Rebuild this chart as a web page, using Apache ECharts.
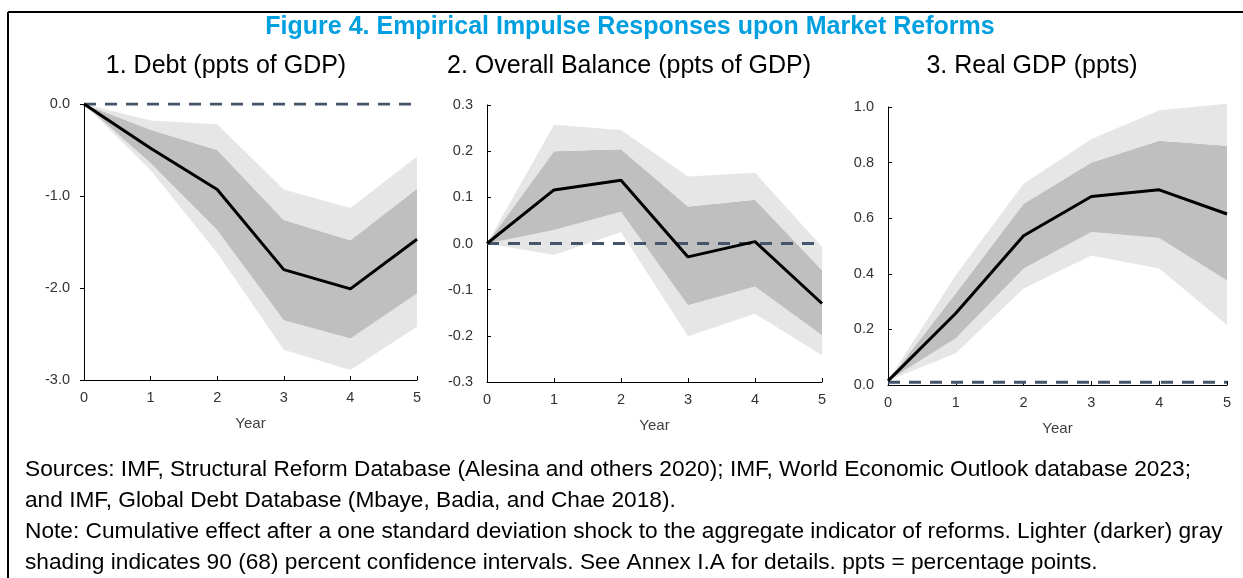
<!DOCTYPE html>
<html>
<head>
<meta charset="utf-8">
<script src="https://cdn.jsdelivr.net/npm/echarts@6/dist/echarts.min.js"></script>
<style>
  html, body { margin: 0; padding: 0; background: #fff; }
  #chart { width: 1243px; height: 578px; }
</style>
</head>
<body>
<div id="chart"></div>
<script>
// years on the x axis
const years = ['0', '1', '2', '3', '4', '5']

// 1. Debt (ppts of GDP)
const debtLine = [0, -0.48, -0.93, -1.80, -2.01, -1.47]
const debtUp68 = [0, -0.28, -0.50, -1.26, -1.48, -0.92]
const debtLo68 = [0, -0.64, -1.37, -2.35, -2.55, -2.06]
const debtUp90 = [0, -0.18, -0.22, -0.93, -1.13, -0.57]
const debtLo90 = [0, -0.72, -1.62, -2.67, -2.89, -2.42]

// 2. Overall Balance (ppts of GDP)
const balLine = [0, 0.116, 0.137, -0.029, 0.004, -0.130]
const balUp68 = [0, 0.200, 0.204, 0.080, 0.095, -0.058]
const balLo68 = [0, 0.029, 0.069, -0.134, -0.093, -0.199]
const balUp90 = [0, 0.257, 0.246, 0.145, 0.153, -0.007]
const balLo90 = [0, -0.025, 0.025, -0.201, -0.152, -0.242]

// 3. Real GDP (ppts)
const gdpLine = [0.015, 0.258, 0.537, 0.678, 0.702, 0.615]
const gdpUp68 = [0.015, 0.330, 0.652, 0.800, 0.879, 0.861]
const gdpLo68 = [0.015, 0.168, 0.419, 0.550, 0.529, 0.376]
const gdpUp90 = [0.015, 0.396, 0.724, 0.885, 0.988, 1.012]
const gdpLo90 = [0.015, 0.114, 0.347, 0.466, 0.419, 0.216]

// zero reference lines
const debtZero = [0, 0, 0, 0, 0, 0]
const balZero = [0, 0, 0, 0, 0, 0]
const gdpZero = [0.01, 0.01, 0.01, 0.01, 0.01, 0.01]

const panelTitles = ['1. Debt (ppts of GDP)', '2. Overall Balance (ppts of GDP)', '3. Real GDP (ppts)']
const footLines = [
  'Sources: IMF, Structural Reform Database (Alesina and others 2020); IMF, World Economic Outlook database 2023;',
  'and IMF, Global Debt Database (Mbaye, Badia, and Chae 2018).',
  'Note: Cumulative effect after a one standard deviation shock to the aggregate indicator of reforms. Lighter (darker) gray',
  'shading indicates 90 (68) percent confidence intervals. See Annex I.A for details. ppts = percentage points.'
]

const FONT = '"Liberation Sans", Arial, sans-serif'
const LIGHT = '#e6e6e6'
const DARK = '#bfbfbf'

const chart = echarts.init(document.getElementById('chart'))

const diff = (a, b) => a.map((v, i) => v - b[i])

// 置信区间 + 零线 + 响应线
function panelSeries(idx, line, up68, lo68, up90, lo90, zero) {
  const stack = 'band' + idx
  const base = {
    type: 'line',
    xAxisIndex: idx,
    yAxisIndex: idx,
    stack: stack,
    stackStrategy: 'all',
    symbol: 'none',
    silent: true,
    clip: false,
    lineStyle: { opacity: 0 }
  }
  return [
    { ...base, data: lo90 },
    { ...base, data: diff(lo68, lo90), areaStyle: { color: LIGHT, opacity: 1 } },
    { ...base, data: diff(up68, lo68), areaStyle: { color: DARK, opacity: 1 } },
    { ...base, data: diff(up90, up68), areaStyle: { color: LIGHT, opacity: 1 } },
    {
      type: 'line',
      xAxisIndex: idx,
      yAxisIndex: idx,
      symbol: 'none',
      data: zero,
      lineStyle: { color: '#44546a', width: 3, type: [12, 9] }
    },
    {
      type: 'line',
      xAxisIndex: idx,
      yAxisIndex: idx,
      symbol: 'none',
      data: line,
      lineStyle: { color: '#000', width: 3 }
    }
  ]
}

const grids = [
  { left: 84, top: 104, width: 333, height: 276 },
  { left: 487, top: 105, width: 335, height: 277 },
  { left: 888, top: 107, width: 339, height: 278 }
]

const yRanges = [
  { min: -3, max: 0, interval: 1 },
  { min: -0.3, max: 0.3, interval: 0.1 },
  { min: 0, max: 1, interval: 0.2 }
]

const fmt = (v) => (Math.abs(v) < 1e-9 ? '0.0' : v.toFixed(1))

const options = {
  animation: false,
  grid: grids,
  xAxis: grids.map((g, i) => ({
    type: 'category',
    gridIndex: i,
    data: years,
    boundaryGap: false,
    name: 'Year',
    nameLocation: 'middle',
    nameGap: 36,
    nameTextStyle: { fontFamily: FONT, fontSize: 15, color: '#404040' },
    axisLine: { onZero: false, lineStyle: { color: '#000', width: 1 } },
    axisTick: { inside: true, length: 4, lineStyle: { color: '#000' } },
    axisLabel: { fontFamily: FONT, fontSize: 14.5, color: '#333', margin: 10 },
    splitLine: { show: false }
  })),
  yAxis: yRanges.map((r, i) => ({
    type: 'value',
    gridIndex: i,
    min: r.min,
    max: r.max,
    interval: r.interval,
    axisLine: { show: true, lineStyle: { color: '#000', width: 1 } },
    axisTick: { show: true, inside: i > 0, length: 4, lineStyle: { color: '#000' } },
    axisLabel: { fontFamily: FONT, fontSize: 14.5, color: '#333', margin: 14, formatter: fmt },
    splitLine: { show: false }
  })),
  graphic: [
    // 外框
    { type: 'line', shape: { x1: 8, y1: 12, x2: 1243, y2: 12 }, style: { stroke: '#000', lineWidth: 2 } },
    { type: 'line', shape: { x1: 8, y1: 12, x2: 8, y2: 578 }, style: { stroke: '#000', lineWidth: 2 } },
    {
      type: 'text', x: 630, y: 27,
      style: {
        text: 'Figure 4. Empirical Impulse Responses upon Market Reforms',
        font: 'bold 25px ' + FONT, fill: '#00a0e0', textAlign: 'center', textVerticalAlign: 'middle'
      }
    },
    ...panelTitles.map((t, i) => ({
      type: 'text', x: [226, 629, 1032][i], y: 66,
      style: { text: t, font: '25px ' + FONT, fill: '#000', textAlign: 'center', textVerticalAlign: 'middle' }
    })),
    ...footLines.map((t, i) => ({
      type: 'text', x: 25, y: 470 + i * 31,
      style: { text: t, font: '22.7px ' + FONT, fill: '#000', textAlign: 'left', textVerticalAlign: 'middle' }
    }))
  ],
  series: [
    ...panelSeries(0, debtLine, debtUp68, debtLo68, debtUp90, debtLo90, debtZero),
    ...panelSeries(1, balLine, balUp68, balLo68, balUp90, balLo90, balZero),
    ...panelSeries(2, gdpLine, gdpUp68, gdpLo68, gdpUp90, gdpLo90, gdpZero)
  ]
}

options && chart.setOption(options, true)
</script>
</body>
</html>
